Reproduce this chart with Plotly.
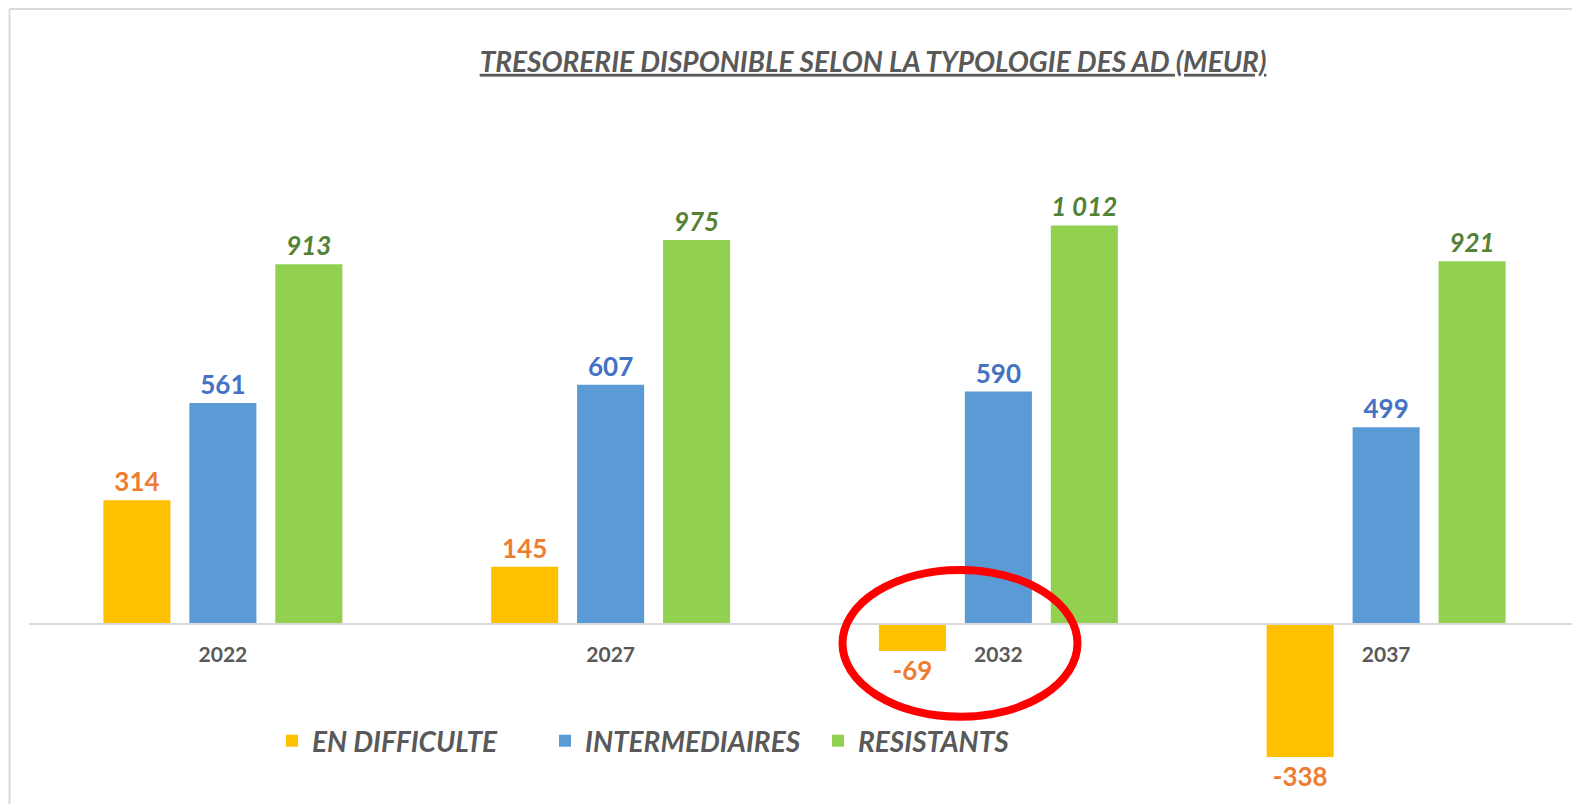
import plotly.graph_objects as go

# Data (MEUR)
years = ["2022", "2027", "2032", "2037"]
en_difficulte = [314, 145, -69, -338]
intermediaires = [561, 607, 590, 499]
resistants = [913, 975, 1012, 921]

series_names = ["EN DIFFICULTE", "INTERMEDIAIRES", "RESISTANTS"]
bar_colors = ["#FFC000", "#5B9BD5", "#92D050"]
label_colors = ["#ED7D31", "#4472C4", "#548235"]

FONT = "Lato"
GREY = "#595959"

# the html page keeps its 8px body margin, so the figure is shifted by that much
OFF = 8
W, H = 1580 - OFF, 804 - OFF


def fmt(v):
    # thousands separated by a space, like the French Excel labels
    return f"{v:,}".replace(",", " ")


fig = go.Figure()

for i, values in enumerate([en_difficulte, intermediaires, resistants]):
    label = [fmt(v) for v in values]
    if i == 2:
        label = [f"<i>{t}</i>" for t in label]
    fig.add_trace(go.Bar(
        x=years,
        y=values,
        name=series_names[i],
        marker=dict(color=bar_colors[i], line=dict(width=0)),
        text=label,
        textposition="outside",
        cliponaxis=False,
        textfont=dict(family=FONT, size=26, color=label_colors[i], weight="bold"),
        hoverinfo="skip",
    ))

y_min, y_max = -450, 1300
zero_pos = (0 - y_min) / (y_max - y_min)

# plot area in page pixels: x 29..1580, y 112..801
fig.update_layout(
    width=W,
    height=H,
    margin=dict(l=29 - OFF, r=0, t=112 - OFF, b=3),
    plot_bgcolor="white",
    paper_bgcolor="white",
    barmode="group",
    bargap=0.335,
    bargroupgap=0.22,

    title=dict(
        text="<b><i><u>TRESORERIE DISPONIBLE SELON LA TYPOLOGIE DES AD (MEUR)</u></i></b>",
        x=(873 - OFF) / W,
        xanchor="center",
        xref="container",
        y=1 - (62 - OFF) / H,
        yanchor="middle",
        yref="container",
        font=dict(family=FONT, size=28, color=GREY),
    ),

    xaxis=dict(
        type="category",
        range=[-0.5, 3.5],
        anchor="free",
        position=zero_pos,
        showline=True,
        linecolor="#D9D9D9",
        linewidth=1.5,
        showgrid=False,
        ticks="",
        ticklabelstandoff=12,
        tickfont=dict(family=FONT, size=21, color=GREY, weight="bold"),
    ),
    yaxis=dict(
        range=[y_min, y_max],
        visible=False,
        showgrid=False,
        zeroline=False,
    ),

    legend=dict(
        orientation="h",
        x=(272 - 29) / 1551,
        xanchor="left",
        y=(801 - 741) / 689,
        yanchor="middle",
        entrywidth=228,
        entrywidthmode="pixels",
        font=dict(family=FONT, size=28, color=GREY, weight="bold", style="italic"),
        bgcolor="rgba(0,0,0,0)",
    ),
    showlegend=True,
)

# Excel chart-area border (only top and left edges visible in the crop)
bx = (9.5 - 29) / 1551
by = (801 - 9) / 689
fig.add_shape(type="line", xref="paper", yref="paper",
              x0=bx, x1=1.01, y0=by, y1=by,
              line=dict(color="#D9D9D9", width=2))
fig.add_shape(type="line", xref="paper", yref="paper",
              x0=bx, x1=bx, y0=-0.01, y1=by,
              line=dict(color="#D9D9D9", width=2))

# Red highlight ellipse around the 2032 negative value
fig.add_shape(type="circle", xref="x", yref="y",
              x0=1.598, x1=2.204, y0=-236, y1=137,
              line=dict(color="#FF0000", width=8))

fig.write_html("out.html")
